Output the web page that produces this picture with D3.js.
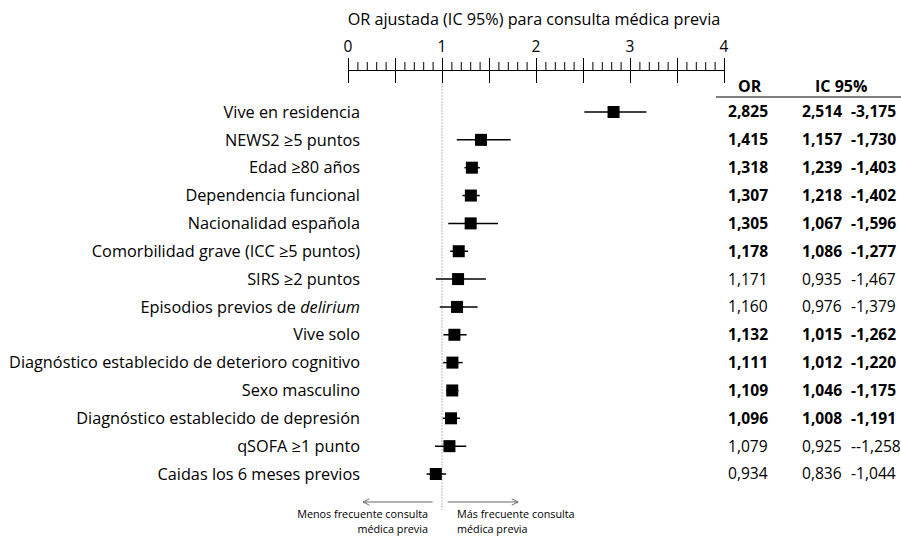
<!DOCTYPE html>
<html>
<head>
<meta charset="utf-8">
<script src="https://cdn.jsdelivr.net/npm/d3@7"></script>
<style>
  body { margin: 0; background: #fff; }
  svg { font-family: "Open Sans", sans-serif; }
</style>
</head>
<body>
<svg id="chart" width="901" height="536"></svg>
<script>
// rows, top to bottom
const labels = [
  "Vive en residencia",
  "NEWS2 \u22655 puntos",
  "Edad \u226580 años",
  "Dependencia funcional",
  "Nacionalidad española",
  "Comorbilidad grave (ICC \u22655 puntos)",
  "SIRS \u22652 puntos",
  "Episodios previos de |delirium",
  "Vive solo",
  "Diagnóstico establecido de deterioro cognitivo",
  "Sexo masculino",
  "Diagnóstico establecido de depresión",
  "qSOFA \u22651 punto",
  "Caidas los 6 meses previos"
];
const orValues = [2.825, 1.415, 1.318, 1.307, 1.305, 1.178, 1.171, 1.160, 1.132, 1.111, 1.109, 1.096, 1.079, 0.934];
const ciLow    = [2.514, 1.157, 1.239, 1.218, 1.067, 1.086, 0.935, 0.976, 1.015, 1.012, 1.046, 1.008, 0.925, 0.836];
const ciHigh   = [3.175, 1.730, 1.403, 1.402, 1.596, 1.277, 1.467, 1.379, 1.262, 1.220, 1.175, 1.191, 1.258, 1.044];
const significant = [true, true, true, true, true, true, false, false, true, true, true, true, false, false];
const orText = ["2,825","1,415","1,318","1,307","1,305","1,178","1,171","1,160","1,132","1,111","1,109","1,096","1,079","0,934"];
const ciLowText = ["2,514","1,157","1,239","1,218","1,067","1,086","0,935","0,976","1,015","1,012","1,046","1,008","0,925","0,836"];
const ciHighText = ["-3,175","-1,730","-1,403","-1,402","-1,596","-1,277","-1,467","-1,379","-1,262","-1,220","-1,175","-1,191","--1,258","-1,044"];
const majorTicks = [0, 1, 2, 3, 4];

const svg = d3.select("#chart");
const axisY = 70;

const x = d3.scaleLinear().domain([0, 4]).range([348, 724]);
const y = d3.scalePoint().domain(d3.range(labels.length)).range([112, 474]);

// title
svg.append("text")
  .attr("x", 534).attr("y", 25)
  .attr("text-anchor", "middle")
  .attr("font-size", 16.2)
  .text("OR ajustada (IC 95%) para consulta médica previa");

// reference line at OR = 1
svg.append("line")
  .attr("x1", x(1)).attr("x2", x(1))
  .attr("y1", axisY + 13).attr("y2", 510)
  .attr("stroke", "#bbb")
  .attr("stroke-width", 1)
  .attr("stroke-dasharray", "2,1");

// axis: minor ticks every 0.1, tall ticks every 0.5
const minor = d3.range(41).map(i => i / 10);
const half = d3.range(9).map(i => i / 2);

svg.append("g")
  .attr("transform", `translate(0,${axisY})`)
  .call(d3.axisTop(x).tickValues(minor).tickSize(8).tickFormat("").tickSizeOuter(0));
svg.append("g")
  .attr("transform", `translate(0,${axisY})`)
  .call(d3.axisTop(x).tickValues(half).tickSize(12).tickFormat("").tickSizeOuter(0));
svg.append("g")
  .attr("transform", `translate(0,${axisY})`)
  .call(d3.axisBottom(x).tickValues(half).tickSize(13).tickFormat("").tickSizeOuter(0));
svg.selectAll(".domain, .tick line").attr("stroke", "#000").attr("stroke-width", 1);

svg.append("g")
  .selectAll("text")
  .data(majorTicks)
  .join("text")
  .attr("x", d => x(d))
  .attr("y", 52)
  .attr("text-anchor", "middle")
  .attr("font-size", 15.5)
  .text(d => d);

// row labels
const lab = svg.append("g")
  .selectAll("text")
  .data(labels)
  .join("text")
  .attr("x", 360)
  .attr("y", (d, i) => y(i))
  .attr("dy", "0.35em")
  .attr("text-anchor", "end")
  .attr("font-size", 16.3);
lab.each(function(d) {
  const parts = d.split("|");
  const t = d3.select(this);
  t.append("tspan").text(parts[0]);
  if (parts[1]) t.append("tspan").attr("font-style", "italic").text(parts[1]);
});

// confidence intervals and markers
const rows = svg.append("g")
  .selectAll("g")
  .data(orValues)
  .join("g");
rows.append("line")
  .attr("x1", (d, i) => x(ciLow[i]))
  .attr("x2", (d, i) => x(ciHigh[i]))
  .attr("y1", (d, i) => y(i))
  .attr("y2", (d, i) => y(i))
  .attr("stroke", "#000")
  .attr("stroke-width", 1.5);
rows.append("rect")
  .attr("x", d => x(d) - 6)
  .attr("y", (d, i) => y(i) - 6)
  .attr("width", 12)
  .attr("height", 12)
  .attr("fill", "#000");

// table
svg.append("text")
  .attr("x", 738).attr("y", 92)
  .attr("font-size", 16).attr("font-weight", "bold")
  .text("OR");
svg.append("text")
  .attr("x", 815).attr("y", 92)
  .attr("font-size", 16).attr("font-weight", "bold")
  .text("IC 95%");
svg.append("line")
  .attr("x1", 716).attr("x2", 901)
  .attr("y1", 97).attr("y2", 97)
  .attr("stroke", "#000").attr("stroke-width", 1.2);

const table = svg.append("g")
  .selectAll("g")
  .data(orText)
  .join("g")
  .attr("font-size", 15.6)
  .attr("font-weight", (d, i) => significant[i] ? "bold" : "normal");
table.append("text")
  .attr("x", 728)
  .attr("y", (d, i) => y(i))
  .attr("dy", "0.35em")
  .text(d => d);
table.append("text")
  .attr("x", 802)
  .attr("y", (d, i) => y(i))
  .attr("dy", "0.35em")
  .text((d, i) => ciLowText[i]);
table.append("text")
  .attr("x", 851)
  .attr("y", (d, i) => y(i))
  .attr("dy", "0.35em")
  .text((d, i) => ciHighText[i]);

// direction arrows
const defs = svg.append("defs");
defs.append("marker")
  .attr("id", "head")
  .attr("viewBox", "0 0 10 10")
  .attr("refX", 9).attr("refY", 5)
  .attr("markerWidth", 8).attr("markerHeight", 8)
  .attr("orient", "auto-start-reverse")
  .attr("markerUnits", "userSpaceOnUse")
  .append("path")
  .attr("d", "M1,1 L9,5 L1,9")
  .attr("fill", "none")
  .attr("stroke", "#666")
  .attr("stroke-width", 1.2);

svg.append("line")
  .attr("x1", x(0.9)).attr("x2", x(0.16))
  .attr("y1", 502).attr("y2", 502)
  .attr("stroke", "#666").attr("stroke-width", 1.2)
  .attr("marker-end", "url(#head)");
svg.append("line")
  .attr("x1", x(1.06)).attr("x2", x(1.81))
  .attr("y1", 502).attr("y2", 502)
  .attr("stroke", "#666").attr("stroke-width", 1.2)
  .attr("marker-end", "url(#head)");

const notes = svg.append("g").attr("font-size", 10.8);
notes.append("text").attr("x", 428).attr("y", 518).attr("text-anchor", "end").text("Menos frecuente consulta");
notes.append("text").attr("x", 428).attr("y", 533).attr("text-anchor", "end").text("médica previa");
notes.append("text").attr("x", 457).attr("y", 518).text("Más frecuente consulta");
notes.append("text").attr("x", 457).attr("y", 533).text("médica previa");
</script>
</body>
</html>
